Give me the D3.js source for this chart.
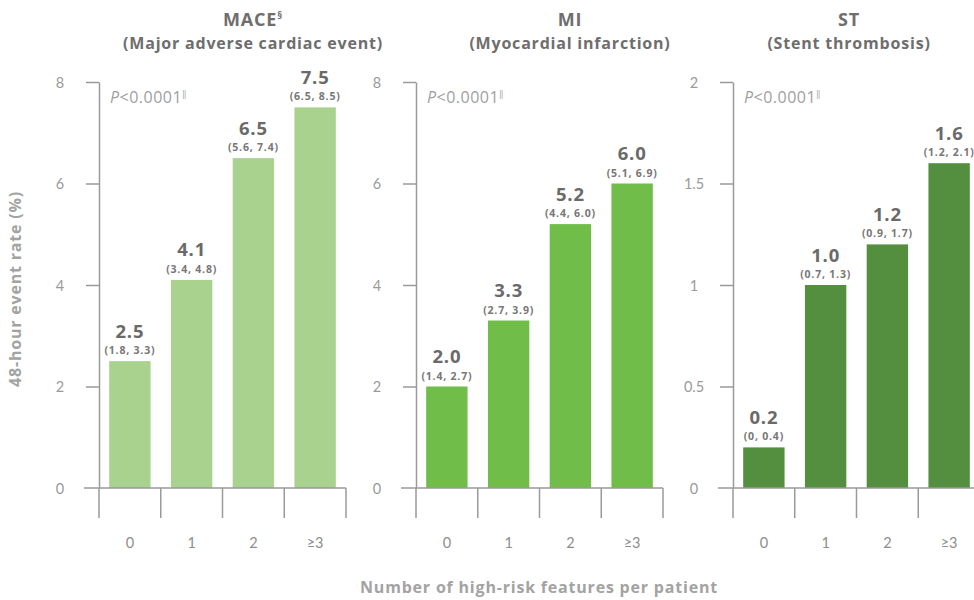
<!DOCTYPE html>
<html>
<head>
<meta charset="utf-8">
<title>event rate by high-risk features</title>
<script src="https://cdn.jsdelivr.net/npm/d3@7"></script>
<style>
    body { margin: 0; background: #fff; }
    svg { font-family: "Open Sans", Lato, sans-serif; }
    .axis path, .axis line { stroke: #9a9a9a; stroke-width: 1.5px; }
    .axis text { fill: #9a9a9a; font-size: 14.5px; font-family: Lato, sans-serif; }
    .title { fill: #6e6e6e; font-weight: bold; text-anchor: middle; letter-spacing: 0.8px; }
    .val { fill: #6a6a6a; font-weight: bold; font-size: 18.5px; text-anchor: middle; letter-spacing: 0.8px; }
    .ci { fill: #777; font-weight: bold; font-size: 10.5px; text-anchor: middle; letter-spacing: 0.8px; }
    .pval { fill: #a0a0a0; font-size: 16px; letter-spacing: 0.5px; }
    .cat { fill: #8e8e8e; font-size: 14.5px; text-anchor: middle; font-family: Lato, sans-serif; }
    .lab { fill: #a3a3a3; font-weight: bold; font-size: 16px; text-anchor: middle; letter-spacing: 0.8px; }
</style>
</head>
<body>
<svg id="chart" width="974" height="600"></svg>
<script>
// data
const categories = ["0", "1", "2", "\u22653"];
const panelTitles = ["MACE", "MI", "ST"];
const titleMarks = ["\u00a7", "", ""];
const panelSubtitles = ["(Major adverse cardiac event)", "(Myocardial infarction)", "(Stent thrombosis)"];
const pLabel = "<0.0001";

const maceValues = [2.5, 4.1, 6.5, 7.5];
const maceCI = [[1.8, 3.3], [3.4, 4.8], [5.6, 7.4], [6.5, 8.5]];
const miValues = [2.0, 3.3, 5.2, 6.0];
const miCI = [[1.4, 2.7], [2.7, 3.9], [4.4, 6.0], [5.1, 6.9]];
const stValues = [0.2, 1.0, 1.2, 1.6];
const stCI = [[0, 0.4], [0.7, 1.3], [0.9, 1.7], [1.2, 2.1]];

const maceTicks = [0, 2, 4, 6, 8];
const miTicks = [0, 2, 4, 6, 8];
const stTicks = [0, 0.5, 1, 1.5, 2];

const barColors = ["#a9d28f", "#70bd4a", "#538f3f"];

// layout
const plotTop = 82, plotBottom = 488;
const panelLeft = [99, 416, 733];
const panelWidth = 247;
const titleX = [253, 570, 849];

const panels = [
    { values: maceValues, ci: maceCI, ticks: maceTicks },
    { values: miValues, ci: miCI, ticks: miTicks },
    { values: stValues, ci: stCI, ticks: stTicks }
];

const svg = d3.select("#chart");
const fmtCI = function(d) { return d === 0 ? "0" : d.toFixed(1); };

panels.forEach(function(p, k) {
    const g = svg.append("g").attr("transform", "translate(" + panelLeft[k] + ",0)");

    const x = d3.scaleBand().domain(categories).range([0, panelWidth])
        .paddingInner(0.33).paddingOuter(0.165);
    const y = d3.scaleLinear().domain(d3.extent(p.ticks)).range([plotBottom, plotTop]);

    // y axis
    const ax = g.append("g").attr("class", "axis")
        .call(d3.axisLeft(y).tickValues(p.ticks).tickSize(13).tickSizeOuter(0)
            .tickFormat(function(d) { return String(d); }));
    ax.selectAll("text").attr("x", -39).attr("text-anchor", "middle").attr("dy", "0.35em");
    ax.selectAll(".tick").filter(function(d) { return d === p.ticks[0]; }).select("line").remove();

    // bars
    g.selectAll("rect").data(p.values).enter().append("rect")
        .attr("x", function(d, i) { return x(categories[i]); })
        .attr("y", function(d) { return y(d); })
        .attr("width", x.bandwidth())
        .attr("height", function(d) { return y(0) - y(d); })
        .attr("fill", barColors[k]);

    // value + CI labels
    g.selectAll(".val").data(p.values).enter().append("text")
        .attr("class", "val")
        .attr("x", function(d, i) { return x(categories[i]) + x.bandwidth() / 2; })
        .attr("y", function(d) { return y(d) - 23.5; })
        .text(function(d) { return d.toFixed(1); });
    g.selectAll(".ci").data(p.ci).enter().append("text")
        .attr("class", "ci")
        .attr("x", function(d, i) { return x(categories[i]) + x.bandwidth() / 2; })
        .attr("y", function(d, i) { return y(p.values[i]) - 7; })
        .text(function(d) { return "(" + fmtCI(d[0]) + ", " + fmtCI(d[1]) + ")"; });

    // baseline + dividers
    const gap = (x.step() - x.bandwidth()) / 2;
    g.append("line")
        .attr("x1", -15).attr("x2", panelWidth).attr("y1", y(0)).attr("y2", y(0))
        .attr("stroke", "#9a9a9a").attr("stroke-width", 1.5);
    const edges = categories.map(function(c) { return x(c) - gap; }).concat([panelWidth]);
    g.selectAll(".div").data(edges).enter().append("line")
        .attr("x1", function(d) { return d; }).attr("x2", function(d) { return d; })
        .attr("y1", y(0)).attr("y2", y(0) + 30)
        .attr("stroke", "#9a9a9a").attr("stroke-width", 1.5);

    // category labels
    g.selectAll(".cat").data(categories).enter().append("text")
        .attr("class", "cat")
        .attr("x", function(d) { return x(d) + x.bandwidth() / 2; })
        .attr("y", 548)
        .text(function(d) { return d; });

    // p value
    const pt = g.append("text").attr("class", "pval").attr("x", 11).attr("y", 103);
    pt.append("tspan").attr("font-style", "italic").text("P");
    pt.append("tspan").text(pLabel);
    pt.append("tspan").attr("font-size", 9).attr("dy", -6).text("\u2016");

    // titles
    const t = svg.append("text").attr("class", "title")
        .attr("x", titleX[k]).attr("y", 26).attr("font-size", 18);
    t.append("tspan").text(panelTitles[k]);
    if (titleMarks[k]) t.append("tspan").attr("font-size", 10).attr("dy", -7).text(titleMarks[k]);
    svg.append("text").attr("class", "title")
        .attr("x", titleX[k]).attr("y", 49).attr("font-size", 16)
        .text(panelSubtitles[k]);
});

// axis titles
svg.append("text").attr("class", "lab")
    .attr("transform", "translate(21," + ((plotTop + plotBottom) / 2 + 4) + ") rotate(-90)")
    .text("48-hour event rate (%)");
svg.append("text").attr("class", "lab")
    .attr("x", 539).attr("y", 593)
    .text("Number of high-risk features per patient");
</script>
</body>
</html>
